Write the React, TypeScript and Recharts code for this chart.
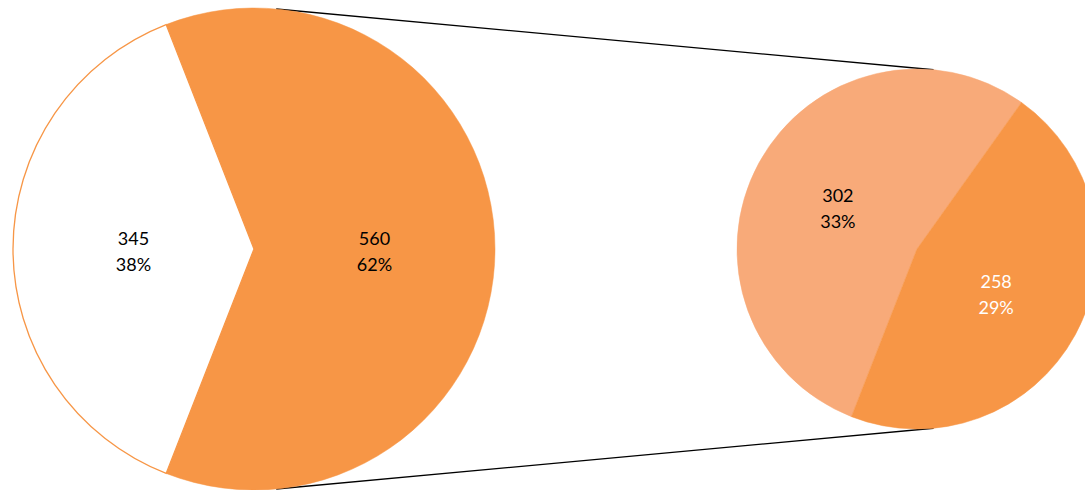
import React from "react";
import { PieChart, Pie, Cell, Customized } from "recharts";

const mainNames = ["Other", "Split"];
const mainValues = [560, 345];
const subNames = ["Part A", "Part B"];
const subValues = [302, 258];

const total = mainValues.reduce((a, b) => a + b, 0);
const mainData = mainNames.map((name, i) => ({ name, value: mainValues[i] }));
const subData = subNames.map((name, i) => ({ name, value: subValues[i] }));

const ORANGE = "#F79646";
const LIGHT = "#F8AA79";

const LEFT = { cx: 254, cy: 249, r: 241 };
const RIGHT = { cx: 917, cy: 249, r: 180 };
const RAD = Math.PI / 180;

const mainStart = -(mainValues[0] / total) * 180;
const subStart = 54.5;

function makeLabel(colors: string[]) {
  return (props: any) => {
    const { cx, cy, midAngle, outerRadius, value, index } = props;
    const r = outerRadius * 0.5;
    const x = cx + r * Math.cos(-midAngle * RAD);
    const y = cy + r * Math.sin(-midAngle * RAD) + 2;
    const pct = Math.round((value / total) * 100);
    return (
      <text
        x={x}
        y={y}
        textAnchor="middle"
        fill={colors[index]}
        fontFamily="Lato, 'Open Sans', sans-serif"
        fontSize={18}
      >
        <tspan x={x} dy={-6}>{value}</tspan>
        <tspan x={x} dy={26}>{pct}%</tspan>
      </text>
    );
  };
}

// outer common tangent lines between the two pies
function Connectors() {
  const d = RIGHT.cx - LEFT.cx;
  const a = Math.asin((LEFT.r - RIGHT.r) / d);
  const nx = Math.sin(a);
  const ny = Math.cos(a);
  const lines = [1, -1].map((s) => ({
    x1: LEFT.cx + LEFT.r * nx,
    y1: LEFT.cy - s * LEFT.r * ny,
    x2: RIGHT.cx + RIGHT.r * nx,
    y2: RIGHT.cy - s * RIGHT.r * ny,
  }));
  return (
    <g>
      {lines.map((l, i) => (
        <line key={i} {...l} stroke="#000" strokeWidth={1.3} />
      ))}
    </g>
  );
}

export default function App() {
  return (
    <div style={{ position: "absolute", left: 0, top: 0, width: 1085, height: 490, background: "#fff" }}>
      <PieChart width={1085} height={490} margin={{ top: 0, right: 0, bottom: 0, left: 0 }}>
        <Customized component={Connectors} />
        <Pie
          data={mainData}
          dataKey="value"
          cx={LEFT.cx}
          cy={LEFT.cy}
          outerRadius={LEFT.r}
          startAngle={mainStart}
          endAngle={mainStart + 360}
          label={makeLabel(["#000", "#000"])}
          labelLine={false}
          isAnimationActive={false}
        >
          <Cell fill={ORANGE} stroke={ORANGE} strokeWidth={0.5} />
          <Cell fill="#fff" stroke={ORANGE} strokeWidth={1.3} />
        </Pie>
        <Pie
          data={subData}
          dataKey="value"
          cx={RIGHT.cx}
          cy={RIGHT.cy}
          outerRadius={RIGHT.r}
          startAngle={subStart}
          endAngle={subStart + 360}
          label={makeLabel(["#000", "#fff"])}
          labelLine={false}
          isAnimationActive={false}
        >
          <Cell fill={LIGHT} stroke={LIGHT} strokeWidth={0.5} />
          <Cell fill={ORANGE} stroke={ORANGE} strokeWidth={0.5} />
        </Pie>
      </PieChart>
    </div>
  );
}
